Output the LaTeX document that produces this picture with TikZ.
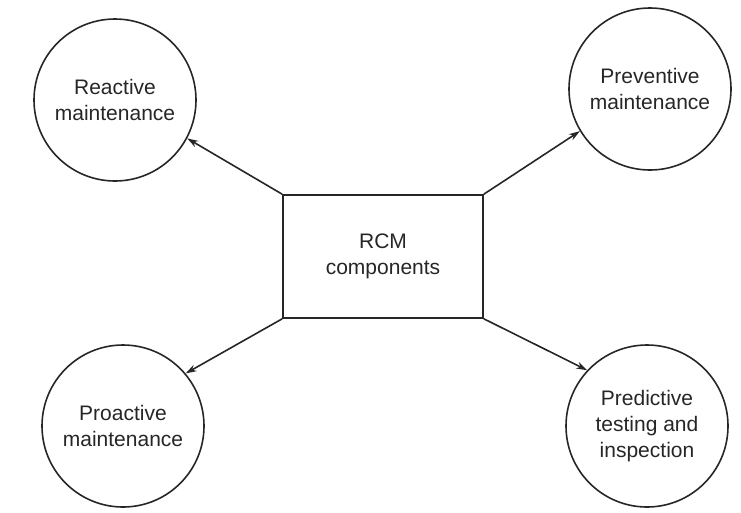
\documentclass[tikz,border=0pt]{standalone}
\usepackage{fontspec}
\setmainfont{Liberation Sans}
\usetikzlibrary{arrows.meta}
\begin{document}
\begin{tikzpicture}[x=1pt,y=-1pt,
  comp/.style={circle,draw=black!85,line width=1.6pt,minimum size=162pt,inner sep=0pt,
    align=center,font=\fontsize{21}{26}\selectfont,text=black!85},
  core/.style={rectangle,draw=black!85,line width=1.6pt,minimum width=200pt,minimum height=123pt,
    inner sep=0pt,align=center,font=\fontsize{21}{26}\selectfont,text=black!85},
  link/.style={draw=black!85,line width=1.6pt,-{Stealth[length=11pt,width=7pt]}}]
\useasboundingbox (0,0) rectangle (741,512);
\node[core] (rcm) at (383,256.5) {RCM\\components};
\node[comp] (rea) at (115,100) {Reactive\\maintenance};
\node[comp] (pre) at (650,89) {Preventive\\maintenance};
\node[comp] (pro) at (123,426) {Proactive\\maintenance};
\node[comp] (prd) at (647,426) {Predictive\\testing and\\inspection};
\draw[link] (rcm.north west) -- (rea.-28);
\draw[link] (rcm.north east) -- (pre.211);
\draw[link] (rcm.south west) -- (pro.40);
\draw[link] (rcm.south east) -- (prd.137);
\end{tikzpicture}
\end{document}
